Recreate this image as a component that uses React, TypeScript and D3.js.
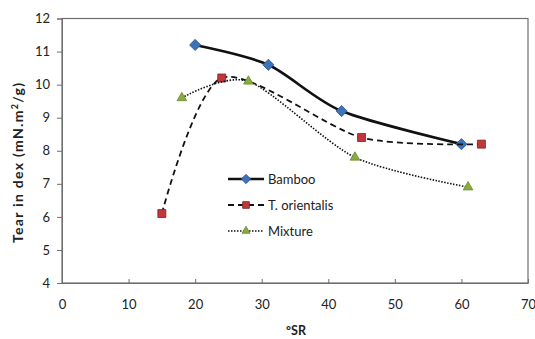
import { useEffect, useRef } from 'react'
import * as d3 from 'd3'

const bambooSR = [20, 31, 42, 60]
const bambooTear = [11.2, 10.6, 9.2, 8.2]
const orientalisSR = [15, 24, 45, 63]
const orientalisTear = [6.1, 10.2, 8.4, 8.2]
const mixtureSR = [18, 28, 44, 61]
const mixtureTear = [9.6, 10.1, 7.8, 6.9]

const xTicks = [0, 10, 20, 30, 40, 50, 60, 70]
const yTicks = [4, 5, 6, 7, 8, 9, 10, 11, 12]

const FONT = 'Lato, "Open Sans", sans-serif'

type Pt = { x: number; y: number }

export default function App() {
  const ref = useRef<SVGSVGElement | null>(null)

  useEffect(() => {
    const svg = d3.select(ref.current)
    svg.selectAll('*').remove()

    const left = 62, right = 528, top = 18.5, bottom = 283

    const x = d3.scaleLinear().domain([0, 70]).range([left, right])
    const y = d3.scaleLinear().domain([4, 12]).range([bottom, top])

    // plot frame
    svg.append('rect')
      .attr('x', left).attr('y', top)
      .attr('width', right - left).attr('height', bottom - top)
      .attr('fill', 'none').attr('stroke', '#6e6e6e').attr('stroke-width', 1.2)

    const yAxis = svg.append('g')
      .attr('transform', `translate(${left},0)`)
      .call(d3.axisLeft(y).tickValues(yTicks).tickSize(5).tickPadding(7).tickFormat(d3.format('d')))
    yAxis.select('.domain').attr('stroke', '#6e6e6e')
    yAxis.selectAll('line').attr('stroke', '#6e6e6e')
    yAxis.selectAll('text').attr('font-family', FONT).attr('font-size', 13).attr('fill', '#222')

    const xAxis = svg.append('g')
      .attr('transform', `translate(0,${bottom})`)
      .call(d3.axisBottom(x).tickValues(xTicks).tickSizeInner(-4).tickSizeOuter(0).tickPadding(17).tickFormat(d3.format('d')))
    xAxis.select('.domain').attr('stroke', '#6e6e6e')
    xAxis.selectAll('line').attr('stroke', '#6e6e6e')
    xAxis.selectAll('text').attr('font-family', FONT).attr('font-size', 13).attr('fill', '#222')

    svg.append('text')
      .attr('transform', `translate(23,163) rotate(-90)`)
      .attr('text-anchor', 'middle')
      .attr('textLength', 160).attr('lengthAdjust', 'spacing')
      .attr('font-family', FONT).attr('font-size', 14).attr('font-weight', 'bold').attr('fill', '#222')
      .html('Tear in dex (mN.m<tspan dy="-5" font-size="9">2</tspan><tspan dy="5">/g)</tspan>')

    svg.append('text')
      .attr('x', 296).attr('y', 335)
      .attr('text-anchor', 'middle')
      .attr('font-family', FONT).attr('font-size', 12.5).attr('font-weight', 'bold').attr('fill', '#222')
      .text('ºSR')

    const series = [
      { name: 'Bamboo', xs: bambooSR, ys: bambooTear, width: 2.6, dash: null, marker: 'diamond', fill: '#3d72b8', stroke: '#2a5590' },
      { name: 'T. orientalis', xs: orientalisSR, ys: orientalisTear, width: 1.8, dash: '6,4', marker: 'square', fill: '#c0373a', stroke: '#7d2224' },
      { name: 'Mixture', xs: mixtureSR, ys: mixtureTear, width: 1.6, dash: '1.5,1.5', marker: 'triangle', fill: '#8aac3e', stroke: '#6b8a2c' },
    ]

    const line = d3.line<Pt>()
      .x(d => x(d.x))
      .y(d => y(d.y))
      .curve(d3.curveCardinal.tension(0.2))

    const symbolFor = (m: string, k = 1) => {
      if (m === 'diamond') return d3.symbol().type(d3.symbolDiamond2).size(80 * k)()
      if (m === 'square') return d3.symbol().type(d3.symbolSquare).size(64 * k)()
      return d3.symbol().type(d3.symbolTriangle).size(40 * k)()
    }

    series.forEach(s => {
      const pts: Pt[] = s.xs.map((v, i) => ({ x: v, y: s.ys[i] }))
      svg.append('path')
        .datum(pts)
        .attr('d', line)
        .attr('fill', 'none')
        .attr('stroke', '#111')
        .attr('stroke-width', s.width)
        .attr('stroke-dasharray', s.dash)

      svg.selectAll(null)
        .data(pts)
        .enter().append('path')
        .attr('d', symbolFor(s.marker))
        .attr('transform', d => `translate(${x(d.x)},${y(d.y)})`)
        .attr('fill', s.fill)
        .attr('stroke', s.stroke)
        .attr('stroke-width', 0.8)
    })

    // legend
    const legend = svg.append('g')
    series.forEach((s, i) => {
      const ly = 179 + i * 26
      legend.append('line')
        .attr('x1', 228).attr('x2', 264).attr('y1', ly).attr('y2', ly)
        .attr('stroke', '#111').attr('stroke-width', s.width)
        .attr('stroke-dasharray', s.dash)
      legend.append('path')
        .attr('d', symbolFor(s.marker, 0.7))
        .attr('transform', `translate(246,${ly})`)
        .attr('fill', s.fill).attr('stroke', s.stroke).attr('stroke-width', 0.8)
      legend.append('text')
        .attr('x', 268).attr('y', ly + 4.5)
        .attr('font-family', FONT).attr('font-size', 13).attr('fill', '#222')
        .text(s.name)
    })
  }, [])

  return (
    <svg ref={ref} width={535} height={339}
      style={{ position: 'absolute', left: 0, top: 0, background: '#fff' }} />
  )
}
